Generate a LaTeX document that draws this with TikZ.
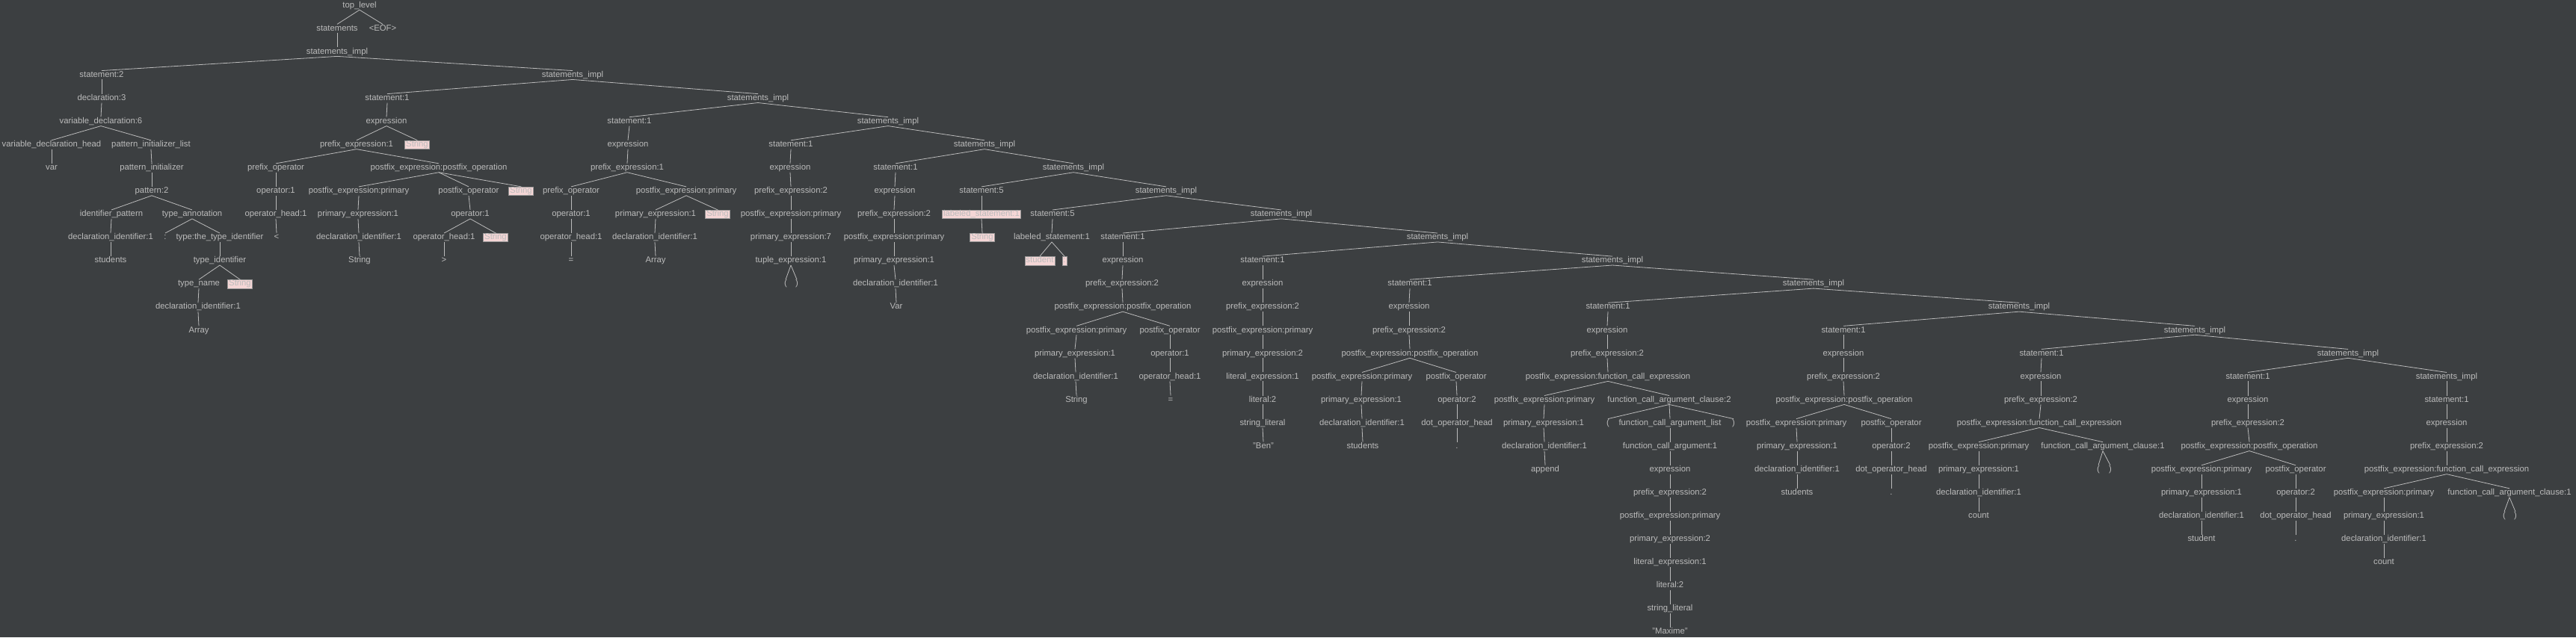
\documentclass[tikz,border=0pt]{standalone}
\usepackage{fontspec}
\setmainfont{Liberation Sans}
\definecolor{bgdark}{RGB}{60,63,65}
\definecolor{txtgrey}{RGB}{187,187,187}
\definecolor{errpink}{RGB}{245,214,214}
\definecolor{errline}{RGB}{150,150,150}
\tikzset{
  tn/.style={text=txtgrey,font=\fontsize{11.3}{13}\selectfont,inner xsep=1.5pt,inner ysep=0.5pt,text height=8pt,text depth=2.5pt},
  errtok/.style={tn,fill=errpink,draw=errline,line width=0.6pt},
  branch/.style={draw=txtgrey,line width=0.8pt}
}
\begin{document}
\begin{tikzpicture}[x=1pt,y=-31.07pt]
    \fill[bgdark] (0,-0.235) rectangle (3446,27.22);
    \useasboundingbox (0,-0.235) rectangle (3446,27.22);
    % row 0 - 2
    \node[tn] at (481,0) (top) {top\_level};
    \node[tn] at (451,1) (stm) {statements};
    \node[tn] at (512,1) (eof) {<EOF>};
    \node[tn] at (451,2) (si0) {statements\_impl};
    % row 3
    \node[tn] at (136,3) (st0) {statement:2};
    \node[tn] at (766,3) (si1) {statements\_impl};
    % row 4
    \node[tn] at (136,4) (decl) {declaration:3};
    \node[tn] at (518,4) (st1) {statement:1};
    \node[tn] at (1014,4) (si2) {statements\_impl};
    % row 5
    \node[tn] at (135,5) (vdecl) {variable\_declaration:6};
    \node[tn] at (517,5) (ex1) {expression};
    \node[tn] at (842,5) (st2) {statement:1};
    \node[tn] at (1188,5) (si3) {statements\_impl};
    % row 6
    \node[tn] at (69,6) (vdh) {variable\_declaration\_head};
    \node[tn] at (202,6) (pil) {pattern\_initializer\_list};
    \node[tn] at (477,6) (pe1) {prefix\_expression:1};
    \node[errtok] at (558,6) (e1a) {String};
    \node[tn] at (840,6) (ex2) {expression};
    \node[tn] at (1058,6) (st3) {statement:1};
    \node[tn] at (1317,6) (si4) {statements\_impl};
    % row 7
    \node[tn] at (69,7) (var) {var};
    \node[tn] at (203,7) (pin) {pattern\_initializer};
    \node[tn] at (369,7) (po1) {prefix\_operator};
    \node[tn] at (587,7) (pfo1) {postfix\_expression:postfix\_operation};
    \node[tn] at (839,7) (pe2) {prefix\_expression:1};
    \node[tn] at (1057,7) (ex3) {expression};
    \node[tn] at (1198,7) (st4) {statement:1};
    \node[tn] at (1436,7) (si5) {statements\_impl};
    % row 8
    \node[tn] at (203,8) (pat) {pattern:2};
    \node[tn] at (369,8) (op1) {operator:1};
    \node[tn] at (480,8) (pfp1) {postfix\_expression:primary};
    \node[tn] at (627,8) (pfx1) {postfix\_operator};
    \node[errtok] at (697,8) (e1b) {String};
    \node[tn] at (764,8) (po2) {prefix\_operator};
    \node[tn] at (918,8) (pfp2) {postfix\_expression:primary};
    \node[tn] at (1058,8) (pe3) {prefix\_expression:2};
    \node[tn] at (1197,8) (ex4) {expression};
    \node[tn] at (1313,8) (st5) {statement:5};
    \node[tn] at (1560,8) (si6) {statements\_impl};
    % row 9
    \node[tn] at (149,9) (idp) {identifier\_pattern};
    \node[tn] at (257,9) (tan) {type\_annotation};
    \node[tn] at (369,9) (oh1) {operator\_head:1};
    \node[tn] at (479,9) (pr1) {primary\_expression:1};
    \node[tn] at (629,9) (op2) {operator:1};
    \node[tn] at (764,9) (op3) {operator:1};
    \node[tn] at (877,9) (pr2) {primary\_expression:1};
    \node[errtok] at (960,9) (e2a) {String};
    \node[tn] at (1058,9) (pfp3) {postfix\_expression:primary};
    \node[tn] at (1196,9) (pe4) {prefix\_expression:2};
    \node[errtok] at (1313,9) (ls1) {labeled\_statement:1};
    \node[tn] at (1408,9) (st6) {statement:5};
    \node[tn] at (1714,9) (si7) {statements\_impl};
    % row 10
    \node[tn] at (148,10) (di1) {declaration\_identifier:1};
    \node[tn] at (221,10) (col) {:};
    \node[tn] at (294,10) (tti) {type:the\_type\_identifier};
    \node[tn] at (370,10) (lt) {<};
    \node[tn] at (480,10) (di2) {declaration\_identifier:1};
    \node[tn] at (594,10) (oh2) {operator\_head:1};
    \node[errtok] at (663,10) (e1c) {String};
    \node[tn] at (764,10) (oh3) {operator\_head:1};
    \node[tn] at (876,10) (di3) {declaration\_identifier:1};
    \node[tn] at (1058,10) (pr3) {primary\_expression:7};
    \node[tn] at (1196,10) (pfp4) {postfix\_expression:primary};
    \node[errtok] at (1314,10) (e3a) {String};
    \node[tn] at (1407,10) (ls2) {labeled\_statement:1};
    \node[tn] at (1502,10) (st7) {statement:1};
    \node[tn] at (1923,10) (si8) {statements\_impl};
    % row 11
    \node[tn] at (148,11) (stu) {students};
    \node[tn] at (294,11) (tid) {type\_identifier};
    \node[tn] at (481,11) (str1) {String};
    \node[tn] at (594,11) (gt) {>};
    \node[tn] at (764,11) (eq1) {=};
    \node[tn] at (877,11) (arr2) {Array};
    \node[tn] at (1058,11) (tup) {tuple\_expression:1};
    \node[tn] at (1196,11) (pr4) {primary\_expression:1};
    \node[errtok] at (1391,11) (e4a) {student};
    \node[errtok] at (1424,11) (e4b) {:};
    \node[tn] at (1502,11) (ex5) {expression};
    \node[tn] at (1689,11) (st8) {statement:1};
    \node[tn] at (2157,11) (si9) {statements\_impl};
    % row 12
    \node[tn] at (266,12) (tnm) {type\_name};
    \node[errtok] at (321,12) (e0a) {String};
    \node[tn] at (1051,12) (lp1) {(};
    \node[tn] at (1066,12) (rp1) {)};
    \node[tn] at (1198,12) (di4) {declaration\_identifier:1};
    \node[tn] at (1501,12) (pe5) {prefix\_expression:2};
    \node[tn] at (1689,12) (ex6) {expression};
    \node[tn] at (1886,12) (st9) {statement:1};
    \node[tn] at (2426,12) (si10) {statements\_impl};
    % row 13
    \node[tn] at (265,13) (di5) {declaration\_identifier:1};
    \node[tn] at (1199,13) (var2) {Var};
    \node[tn] at (1502,13) (pfo2) {postfix\_expression:postfix\_operation};
    \node[tn] at (1689,13) (pe6) {prefix\_expression:2};
    \node[tn] at (1885,13) (ex7) {expression};
    \node[tn] at (2151,13) (st10) {statement:1};
    \node[tn] at (2701,13) (si11) {statements\_impl};
    % row 14
    \node[tn] at (266,14) (arr1) {Array};
    \node[tn] at (1440,14) (pfp5) {postfix\_expression:primary};
    \node[tn] at (1565,14) (pfx2) {postfix\_operator};
    \node[tn] at (1689,14) (pfp6) {postfix\_expression:primary};
    \node[tn] at (1885,14) (pe7) {prefix\_expression:2};
    \node[tn] at (2150,14) (ex8) {expression};
    \node[tn] at (2466,14) (st11) {statement:1};
    \node[tn] at (2936,14) (si12) {statements\_impl};
    % row 15
    \node[tn] at (1438,15) (pr5) {primary\_expression:1};
    \node[tn] at (1565,15) (op4) {operator:1};
    \node[tn] at (1689,15) (pr6) {primary\_expression:2};
    \node[tn] at (1886,15) (pfo3) {postfix\_expression:postfix\_operation};
    \node[tn] at (2150,15) (pe8) {prefix\_expression:2};
    \node[tn] at (2466,15) (ex9) {expression};
    \node[tn] at (2731,15) (st12) {statement:1};
    \node[tn] at (3141,15) (si13) {statements\_impl};
    % row 16
    \node[tn] at (1439,16) (di6) {declaration\_identifier:1};
    \node[tn] at (1565,16) (oh4) {operator\_head:1};
    \node[tn] at (1689,16) (le1) {literal\_expression:1};
    \node[tn] at (1822,16) (pfp7) {postfix\_expression:primary};
    \node[tn] at (1948,16) (pfx3) {postfix\_operator};
    \node[tn] at (2151,16) (fc1) {postfix\_expression:function\_call\_expression};
    \node[tn] at (2466,16) (pe9) {prefix\_expression:2};
    \node[tn] at (2730,16) (ex10) {expression};
    \node[tn] at (3007,16) (st13) {statement:1};
    \node[tn] at (3273,16) (si14) {statements\_impl};
    % row 17
    \node[tn] at (1440,17) (str2) {String};
    \node[tn] at (1566,17) (eq2) {=};
    \node[tn] at (1689,17) (lit1) {literal:2};
    \node[tn] at (1821,17) (pr7) {primary\_expression:1};
    \node[tn] at (1949,17) (op5) {operator:2};
    \node[tn] at (2066,17) (pfp8) {postfix\_expression:primary};
    \node[tn] at (2233,17) (fa1) {function\_call\_argument\_clause:2};
    \node[tn] at (2467,17) (pfo4) {postfix\_expression:postfix\_operation};
    \node[tn] at (2730,17) (pe10) {prefix\_expression:2};
    \node[tn] at (3007,17) (ex11) {expression};
    \node[tn] at (3273,17) (st14) {statement:1};
    % row 18
    \node[tn] at (1689,18) (sl1) {string\_literal};
    \node[tn] at (1822,18) (di7) {declaration\_identifier:1};
    \node[tn] at (1949,18) (doh1) {dot\_operator\_head};
    \node[tn] at (2065,18) (pr8) {primary\_expression:1};
    \node[tn] at (2151,18) (lp2) {(};
    \node[tn] at (2234,18) (fal) {function\_call\_argument\_list};
    \node[tn] at (2319,18) (rp2) {)};
    \node[tn] at (2403,18) (pfp9) {postfix\_expression:primary};
    \node[tn] at (2530,18) (pfx4) {postfix\_operator};
    \node[tn] at (2728,18) (fc2) {postfix\_expression:function\_call\_expression};
    \node[tn] at (3007,18) (pe11) {prefix\_expression:2};
    \node[tn] at (3273,18) (ex12) {expression};
    % row 19
    \node[tn] at (1690,19) (ben) {"Ben"};
    \node[tn] at (1823,19) (stu2) {students};
    \node[tn] at (1949,19) (dot1) {.};
    \node[tn] at (2066,19) (di8) {declaration\_identifier:1};
    \node[tn] at (2234,19) (farg) {function\_call\_argument:1};
    \node[tn] at (2404,19) (pr9) {primary\_expression:1};
    \node[tn] at (2530,19) (op6) {operator:2};
    \node[tn] at (2647,19) (pfp10) {postfix\_expression:primary};
    \node[tn] at (2813,19) (fa2) {function\_call\_argument\_clause:1};
    \node[tn] at (3009,19) (pfo5) {postfix\_expression:postfix\_operation};
    \node[tn] at (3273,19) (pe12) {prefix\_expression:2};
    % row 20
    \node[tn] at (2067,20) (app) {append};
    \node[tn] at (2234,20) (ex13) {expression};
    \node[tn] at (2404,20) (di9) {declaration\_identifier:1};
    \node[tn] at (2530,20) (doh2) {dot\_operator\_head};
    \node[tn] at (2647,20) (pr10) {primary\_expression:1};
    \node[tn] at (2807,20) (lp3) {(};
    \node[tn] at (2823,20) (rp3) {)};
    \node[tn] at (2945,20) (pfp11) {postfix\_expression:primary};
    \node[tn] at (3071,20) (pfx5) {postfix\_operator};
    \node[tn] at (3273,20) (fc3) {postfix\_expression:function\_call\_expression};
    % row 21
    \node[tn] at (2234,21) (pe13) {prefix\_expression:2};
    \node[tn] at (2404,21) (stu3) {students};
    \node[tn] at (2530,21) (dot2) {.};
    \node[tn] at (2647,21) (di10) {declaration\_identifier:1};
    \node[tn] at (2945,21) (pr11) {primary\_expression:1};
    \node[tn] at (3071,21) (op7) {operator:2};
    \node[tn] at (3189,21) (pfp12) {postfix\_expression:primary};
    \node[tn] at (3357,21) (fa3) {function\_call\_argument\_clause:1};
    % row 22
    \node[tn] at (2234,22) (pfp13) {postfix\_expression:primary};
    \node[tn] at (2647,22) (cnt1) {count};
    \node[tn] at (2945,22) (di11) {declaration\_identifier:1};
    \node[tn] at (3071,22) (doh3) {dot\_operator\_head};
    \node[tn] at (3189,22) (pr12) {primary\_expression:1};
    \node[tn] at (3350,22) (lp4) {(};
    \node[tn] at (3365,22) (rp4) {)};
    % row 23 - 27
    \node[tn] at (2234,23) (pr13) {primary\_expression:2};
    \node[tn] at (2945,23) (stud) {student};
    \node[tn] at (3071,23) (dot3) {.};
    \node[tn] at (3189,23) (di12) {declaration\_identifier:1};
    \node[tn] at (2234,24) (le2) {literal\_expression:1};
    \node[tn] at (3189,24) (cnt2) {count};
    \node[tn] at (2234,25) (lit2) {literal:2};
    \node[tn] at (2234,26) (sl2) {string\_literal};
    \node[tn] at (2234,27) (maxi) {"Maxime"};
    % branches
    \foreach \p/\c in {top/stm,top/eof,stm/si0,si0/st0,si0/si1,st0/decl,decl/vdecl,vdecl/vdh,vdecl/pil,
        vdh/var,pil/pin,pin/pat,pat/idp,pat/tan,idp/di1,di1/stu,tan/col,tan/tti,tti/tid,tid/tnm,tid/e0a,
        tnm/di5,di5/arr1,si1/st1,si1/si2,st1/ex1,ex1/pe1,ex1/e1a,pe1/po1,pe1/pfo1,po1/op1,op1/oh1,oh1/lt,
        pfo1/pfp1,pfo1/pfx1,pfo1/e1b,pfp1/pr1,pr1/di2,di2/str1,pfx1/op2,op2/oh2,op2/e1c,oh2/gt,
        si2/st2,si2/si3,st2/ex2,ex2/pe2,pe2/po2,pe2/pfp2,po2/op3,op3/oh3,oh3/eq1,pfp2/pr2,pfp2/e2a,pr2/di3,di3/arr2,
        si3/st3,si3/si4,st3/ex3,ex3/pe3,pe3/pfp3,pfp3/pr3,pr3/tup,tup/lp1,tup/rp1,
        si4/st4,si4/si5,st4/ex4,ex4/pe4,pe4/pfp4,pfp4/pr4,pr4/di4,di4/var2,
        si5/st5,si5/si6,st5/ls1,ls1/e3a,si6/st6,si6/si7,st6/ls2,ls2/e4a,ls2/e4b,
        si7/st7,si7/si8,st7/ex5,ex5/pe5,pe5/pfo2,pfo2/pfp5,pfo2/pfx2,pfp5/pr5,pr5/di6,di6/str2,pfx2/op4,op4/oh4,oh4/eq2,
        si8/st8,si8/si9,st8/ex6,ex6/pe6,pe6/pfp6,pfp6/pr6,pr6/le1,le1/lit1,lit1/sl1,sl1/ben,
        si9/st9,si9/si10,st9/ex7,ex7/pe7,pe7/pfo3,pfo3/pfp7,pfo3/pfx3,pfp7/pr7,pr7/di7,di7/stu2,pfx3/op5,op5/doh1,doh1/dot1,
        si10/st10,si10/si11,st10/ex8,ex8/pe8,pe8/fc1,fc1/pfp8,fc1/fa1,pfp8/pr8,pr8/di8,di8/app,
        fa1/lp2,fa1/fal,fa1/rp2,fal/farg,farg/ex13,ex13/pe13,pe13/pfp13,pfp13/pr13,pr13/le2,le2/lit2,lit2/sl2,sl2/maxi,
        si11/st11,si11/si12,st11/ex9,ex9/pe9,pe9/pfo4,pfo4/pfp9,pfo4/pfx4,pfp9/pr9,pr9/di9,di9/stu3,pfx4/op6,op6/doh2,doh2/dot2,
        si12/st12,si12/si13,st12/ex10,ex10/pe10,pe10/fc2,fc2/pfp10,fc2/fa2,pfp10/pr10,pr10/di10,di10/cnt1,fa2/lp3,fa2/rp3,
        si13/st13,si13/si14,st13/ex11,ex11/pe11,pe11/pfo5,pfo5/pfp11,pfo5/pfx5,pfp11/pr11,pr11/di11,di11/stud,pfx5/op7,op7/doh3,doh3/dot3,
        si14/st14,st14/ex12,ex12/pe12,pe12/fc3,fc3/pfp12,fc3/fa3,pfp12/pr12,pr12/di12,di12/cnt2,fa3/lp4,fa3/rp4}
        \draw[branch] (\p.south) -- (\c.north);
\end{tikzpicture}
\end{document}
